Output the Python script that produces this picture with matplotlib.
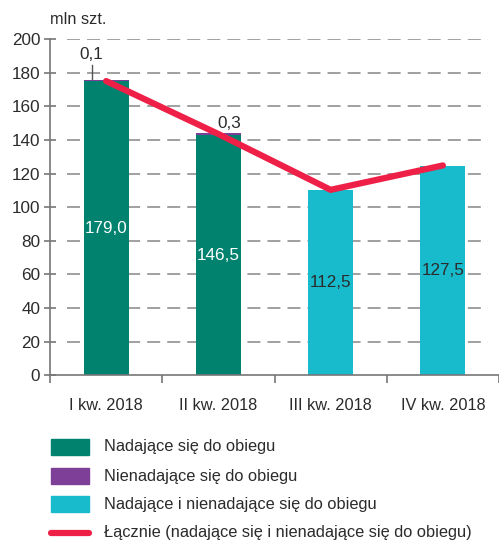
import matplotlib
matplotlib.use("Agg")
import matplotlib.pyplot as plt
from matplotlib.patches import Rectangle
from matplotlib.lines import Line2D

plt.rcParams['font.family'] = ['Liberation Sans Narrow', 'Liberation Sans', 'DejaVu Sans']

categories = ["I kw. 2018", "II kw. 2018", "III kw. 2018", "IV kw. 2018"]
fit_values = [175.0, 143.0, 0, 0]          # Nadające się do obiegu
unfit_values = [0.8, 1.2, 0, 0]            # Nienadające się do obiegu (drawn thin)
combined_values = [0, 0, 110.3, 124.6]     # Nadające i nienadające
total_values = [175.0, 143.5, 110.3, 124.8]  # Łącznie
bar_labels = ["179,0", "146,5", "112,5", "127,5"]
small_labels = ["0,1", "0,3"]
yticks = [0, 20, 40, 60, 80, 100, 120, 140, 160, 180, 200]
legend_labels = ["Nadające się do obiegu", "Nienadające się do obiegu",
                 "Nadające i nienadające się do obiegu",
                 "Łącznie (nadające się i nienadające się do obiegu)"]

TEAL = "#00826F"
PURPLE = "#7E3F98"
CYAN = "#17BBCC"
RED = "#EE2047"
TXT = "#2b2b2b"
GRID = "#999999"

W, H = 499, 542
fig = plt.figure(figsize=(W / 100, H / 100), dpi=100)
ax = fig.add_axes([50 / W, (H - 375.3) / H, (W - 50) / W, (375.3 - 39) / H])

x = list(range(len(categories)))
bw = 0.4
xmax = (W - 50) / 115 - 0.5
gx0 = (67 - 50) / 115 - 0.5

ax.hlines(yticks[1:], gx0, xmax, color=GRID, linestyle=(0, (7.2, 3.9)), lw=1.3, zorder=0)

ax.bar(x, fit_values, width=bw, color=TEAL, zorder=2)
ax.bar(x, unfit_values, width=bw, bottom=fit_values, color=PURPLE, zorder=2)
ax.bar(x, combined_values, width=bw, color=CYAN, zorder=2)
ax.plot(x, total_values, color=RED, lw=4.5, solid_capstyle='round', zorder=3)

fs = 11.8
for i in x:
    h = fit_values[i] + combined_values[i]
    col = "white" if fit_values[i] > 0 else TXT
    ax.text(i, h / 2, bar_labels[i], ha='center', va='center', color=col,
            fontsize=fs + 0.5, zorder=4)

ax.text(-0.13, 191, small_labels[0], ha='center', va='center', color=TXT, fontsize=fs + 0.5)
ax.plot([-0.13, -0.13], [176, 184.5], color="#555555", lw=1, zorder=3)
ax.text(1.1, 150, small_labels[1], ha='center', va='center', color=TXT, fontsize=fs + 0.5)

ax.set_ylim(0, 200)
ax.set_xlim(-0.5, xmax)
ax.set_yticks(yticks)
ax.set_yticklabels([str(t) for t in yticks], fontsize=fs + 0.5, color=TXT)
ax.tick_params(axis='y', length=8, direction='inout', color="#777777", width=1.2, pad=3)

ax.set_xticks([i - 0.5 for i in range(5)])
ax.set_xticklabels([])
ax.set_xticks(x, minor=True)
ax.set_xticklabels(categories, minor=True, fontsize=fs, color=TXT)
ax.tick_params(axis='x', which='major', length=6, direction='out', color="#777777", width=1.2)
ax.tick_params(axis='x', which='minor', length=0, pad=16)

for s in ['top', 'right']:
    ax.spines[s].set_visible(False)
for s in ['left', 'bottom']:
    ax.spines[s].set_color("#777777")
    ax.spines[s].set_linewidth(1.2)

fig.text(50 / W, 1 - 19 / H, "mln szt.", ha='left', va='center', fontsize=fs, color=TXT)

# legend
rows = [447, 476, 504, 533]
colors = [TEAL, PURPLE, CYAN]
for r, c, lab in zip(rows[:3], colors, legend_labels[:3]):
    fig.patches.append(Rectangle((51 / W, 1 - (r + 8) / H), 38 / W, 16 / H,
                                 transform=fig.transFigure, color=c))
    fig.text(104 / W, 1 - r / H, lab, ha='left', va='center', fontsize=fs, color=TXT)
r = rows[3]
fig.lines.append(Line2D([51 / W, 89 / W], [1 - r / H, 1 - r / H], transform=fig.transFigure,
                        color=RED, lw=4.5, solid_capstyle='round'))
fig.text(104 / W, 1 - r / H, legend_labels[3], ha='left', va='center', fontsize=fs, color=TXT)

fig.savefig("out.png", dpi=100)
